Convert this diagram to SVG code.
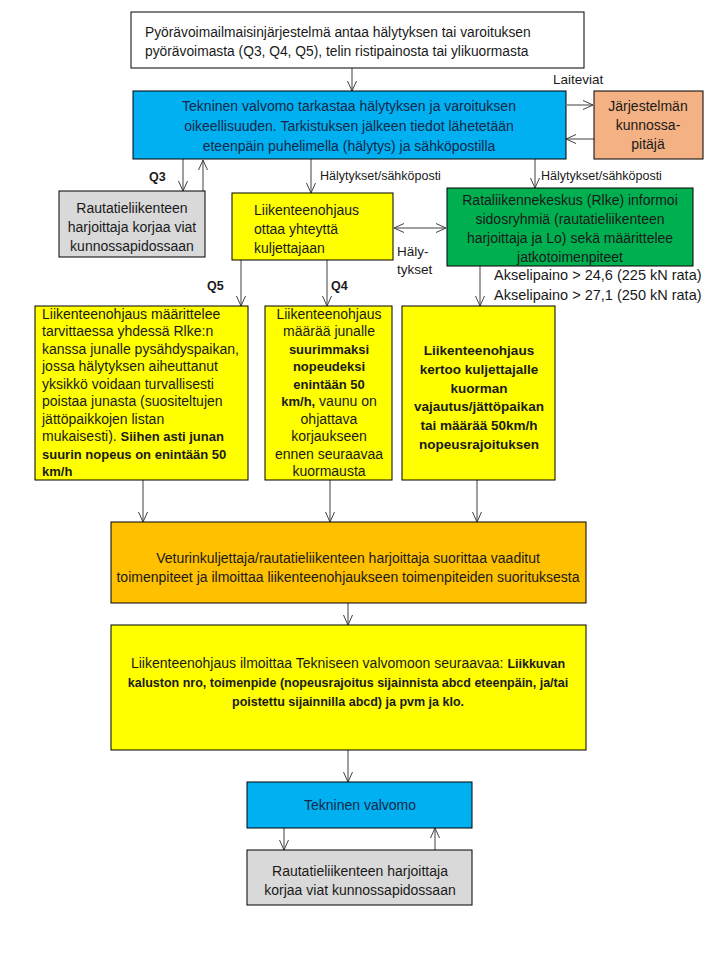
<svg xmlns="http://www.w3.org/2000/svg" width="720" height="960" viewBox="0 0 720 960">
<style>
text{font-family:"Liberation Sans",Arial,sans-serif;font-size:14px;fill:#1a1a1a}
.c{text-anchor:middle}
.b{font-weight:bold;font-size:13px}
.box{stroke:#000;stroke-width:1}
.ln{stroke:#404040;stroke-width:1;fill:none;marker-end:url(#ah)}
.lbl{font-size:12.5px}
.nv{fill:#14284b}
</style>
<defs>
<marker id="ah" markerUnits="userSpaceOnUse" viewBox="0 0 10 10" refX="10" refY="5" markerWidth="10" markerHeight="10" orient="auto-start-reverse">
<path d="M0,0.5 L10,5 L0,9.5" fill="none" stroke="#404040" stroke-width="1"/>
</marker>
</defs>
<rect width="720" height="960" fill="#fff"/>
<g id="connectors">
<line class="ln" x1="352" y1="68" x2="352" y2="91"/>
<line class="ln" x1="567" y1="105" x2="593" y2="105"/>
<line class="ln" x1="594" y1="139" x2="566" y2="139"/>
<line class="ln" x1="183" y1="159" x2="183" y2="191"/>
<line class="ln" x1="203" y1="191" x2="203" y2="160"/>
<line class="ln" x1="311" y1="159" x2="311" y2="193"/>
<line class="ln" x1="535" y1="159" x2="535" y2="188"/>
<line class="ln" x1="394" y1="228" x2="446" y2="228" style="marker-start:url(#ah)"/>
<line class="ln" x1="241" y1="260" x2="241" y2="306"/>
<line class="ln" x1="327" y1="260" x2="327" y2="306"/>
<line class="ln" x1="480" y1="266" x2="480" y2="306"/>
<line class="ln" x1="143" y1="480" x2="143" y2="522"/>
<line class="ln" x1="330" y1="480" x2="330" y2="522"/>
<line class="ln" x1="477" y1="480" x2="477" y2="522"/>
<line class="ln" x1="348" y1="603" x2="348" y2="625"/>
<line class="ln" x1="348" y1="750" x2="348" y2="782"/>
<line class="ln" x1="284" y1="828" x2="284" y2="850"/>
<line class="ln" x1="435" y1="850" x2="435" y2="828"/>
<text class="lbl" x="553" y="84" style="font-size:13.5px">Laiteviat</text>
<text class="lbl b" x="149" y="181">Q3</text>
<text class="lbl" x="320" y="180">Hälytykset/sähköposti</text>
<text class="lbl" x="541" y="180">Hälytykset/sähköposti</text>
<text class="lbl" x="397" y="256" style="font-size:13.5px">Häly-</text>
<text class="lbl" x="397" y="274" style="font-size:13.5px">tykset</text>
<text class="lbl b" x="207" y="290">Q5</text>
<text class="lbl b" x="331" y="290">Q4</text>
<text class="lbl" x="494" y="280" style="font-size:14.5px">Akselipaino &gt; 24,6 (225 kN rata)</text>
<text class="lbl" x="494" y="300" style="font-size:14.5px">Akselipaino &gt; 27,1 (250 kN rata)</text>
</g>
<g id="n1">
<rect class="box" x="131" y="12" width="453" height="56" fill="#fff"/>
<text x="145" y="37" style="font-size:13.8px">Pyörävoimailmaisinjärjestelmä antaa hälytyksen tai varoituksen</text>
<text x="145" y="56" style="font-size:13.8px">pyörävoimasta (Q3, Q4, Q5), telin ristipainosta tai ylikuormasta</text>
</g>
<g id="n2">
<rect class="box" x="133" y="91" width="433" height="68" fill="#00B0F0"/>
<text class="c nv" x="349" y="111">Tekninen valvomo tarkastaa hälytyksen ja varoituksen</text>
<text class="c nv" x="349" y="131">oikeellisuuden. Tarkistuksen jälkeen tiedot lähetetään</text>
<text class="c nv" x="349" y="151">eteenpäin puhelimella (hälytys) ja sähköpostilla</text>
</g>
<g id="n3">
<rect class="box" x="594" y="91" width="109" height="68" fill="#F4B183"/>
<text class="c" x="648" y="111">Järjestelmän</text>
<text class="c" x="648" y="130">kunnossa-</text>
<text class="c" x="648" y="149">pitäjä</text>
</g>
<g id="n4">
<rect class="box" x="59" y="191" width="146" height="66" fill="#D9D9D9"/>
<text class="c" x="132" y="213">Rautatieliikenteen</text>
<text class="c" x="132" y="232">harjoittaja korjaa viat</text>
<text class="c" x="132" y="251">kunnossapidossaan</text>
</g>
<g id="n5">
<rect class="box" x="232" y="193" width="161" height="67" fill="#FFFF00"/>
<text x="254" y="215">Liikenteenohjaus</text>
<text x="254" y="234">ottaa yhteyttä</text>
<text x="254" y="253">kuljettajaan</text>
</g>
<g id="n6">
<rect class="box" x="447" y="188" width="246" height="78" fill="#00B050"/>
<text class="c" x="570" y="205">Rataliikennekeskus (Rlke) informoi</text>
<text class="c" x="570" y="224">sidosryhmiä (rautatieliikenteen</text>
<text class="c" x="570" y="243">harjoittaja ja Lo) sekä määrittelee</text>
<text class="c" x="570" y="262">jatkotoimenpiteet</text>
</g>
<g id="n7">
<rect class="box" x="35" y="306" width="213" height="174" fill="#FFFF00"/>
<text x="42" y="319">Liikenteenohjaus määrittelee</text>
<text x="42" y="336">tarvittaessa yhdessä Rlke:n</text>
<text x="42" y="354">kanssa junalle pysähdyspaikan,</text>
<text x="42" y="371">jossa hälytyksen aiheuttanut</text>
<text x="42" y="389">yksikkö voidaan turvallisesti</text>
<text x="42" y="406">poistaa junasta (suositeltujen</text>
<text x="42" y="424">jättöpaikkojen listan</text>
<text x="42" y="441">mukaisesti). <tspan class="b">Siihen asti junan</tspan></text>
<text x="42" y="459" class="b">suurin nopeus on enintään 50</text>
<text x="42" y="476" class="b">km/h</text>
</g>
<g id="n8">
<rect class="box" x="265" y="306" width="127" height="174" fill="#FFFF00"/>
<text class="c" x="329" y="319">Liikenteenohjaus</text>
<text class="c" x="329" y="336">määrää junalle</text>
<text class="c b" x="329" y="354">suurimmaksi</text>
<text class="c b" x="329" y="371">nopeudeksi</text>
<text class="c b" x="329" y="389">enintään 50</text>
<text class="c" x="329" y="406"><tspan class="b">km/h,</tspan> vaunu on</text>
<text class="c" x="329" y="424">ohjattava</text>
<text class="c" x="329" y="441">korjaukseen</text>
<text class="c" x="329" y="459">ennen seuraavaa</text>
<text class="c" x="329" y="476">kuormausta</text>
</g>
<g id="n9">
<rect class="box" x="402" y="306" width="153" height="174" fill="#FFFF00"/>
<text class="c b" x="479" y="355" style="font-size:13.5px">Liikenteenohjaus</text>
<text class="c b" x="479" y="374" style="font-size:13.5px">kertoo kuljettajalle</text>
<text class="c b" x="479" y="393" style="font-size:13.5px">kuorman</text>
<text class="c b" x="479" y="411" style="font-size:13.5px">vajautus/jättöpaikan</text>
<text class="c b" x="479" y="430" style="font-size:13.5px">tai määrää 50km/h</text>
<text class="c b" x="479" y="449" style="font-size:13.5px">nopeusrajoituksen</text>
</g>
<g id="n10">
<rect class="box" x="111" y="522" width="475" height="81" fill="#FFC000"/>
<text class="c" x="348" y="563">Veturinkuljettaja/rautatieliikenteen harjoittaja  suorittaa vaaditut</text>
<text class="c" x="348" y="582">toimenpiteet ja ilmoittaa liikenteenohjaukseen toimenpiteiden suorituksesta</text>
</g>
<g id="n11">
<rect class="box" x="111" y="625" width="475" height="125" fill="#FFFF00"/>
<text class="c" x="348" y="668">Liikenteenohjaus ilmoittaa Tekniseen valvomoon seuraavaa: <tspan class="b" style="font-size:12.5px">Liikkuvan</tspan></text>
<text class="c b" x="348" y="687" style="font-size:12.5px">kaluston nro, toimenpide (nopeusrajoitus sijainnista abcd eteenpäin, ja/tai</text>
<text class="c b" x="348" y="706" style="font-size:12.5px">poistettu sijainnilla abcd) ja pvm ja  klo.</text>
</g>
<g id="n12">
<rect class="box" x="247" y="782" width="225" height="46" fill="#00B0F0"/>
<text class="c nv" x="360" y="810">Tekninen valvomo</text>
</g>
<g id="n13">
<rect class="box" x="247" y="850" width="225" height="55" fill="#D9D9D9"/>
<text class="c" x="360" y="876">Rautatieliikenteen harjoittaja</text>
<text class="c" x="360" y="895">korjaa viat kunnossapidossaan</text>
</g>
</svg>
